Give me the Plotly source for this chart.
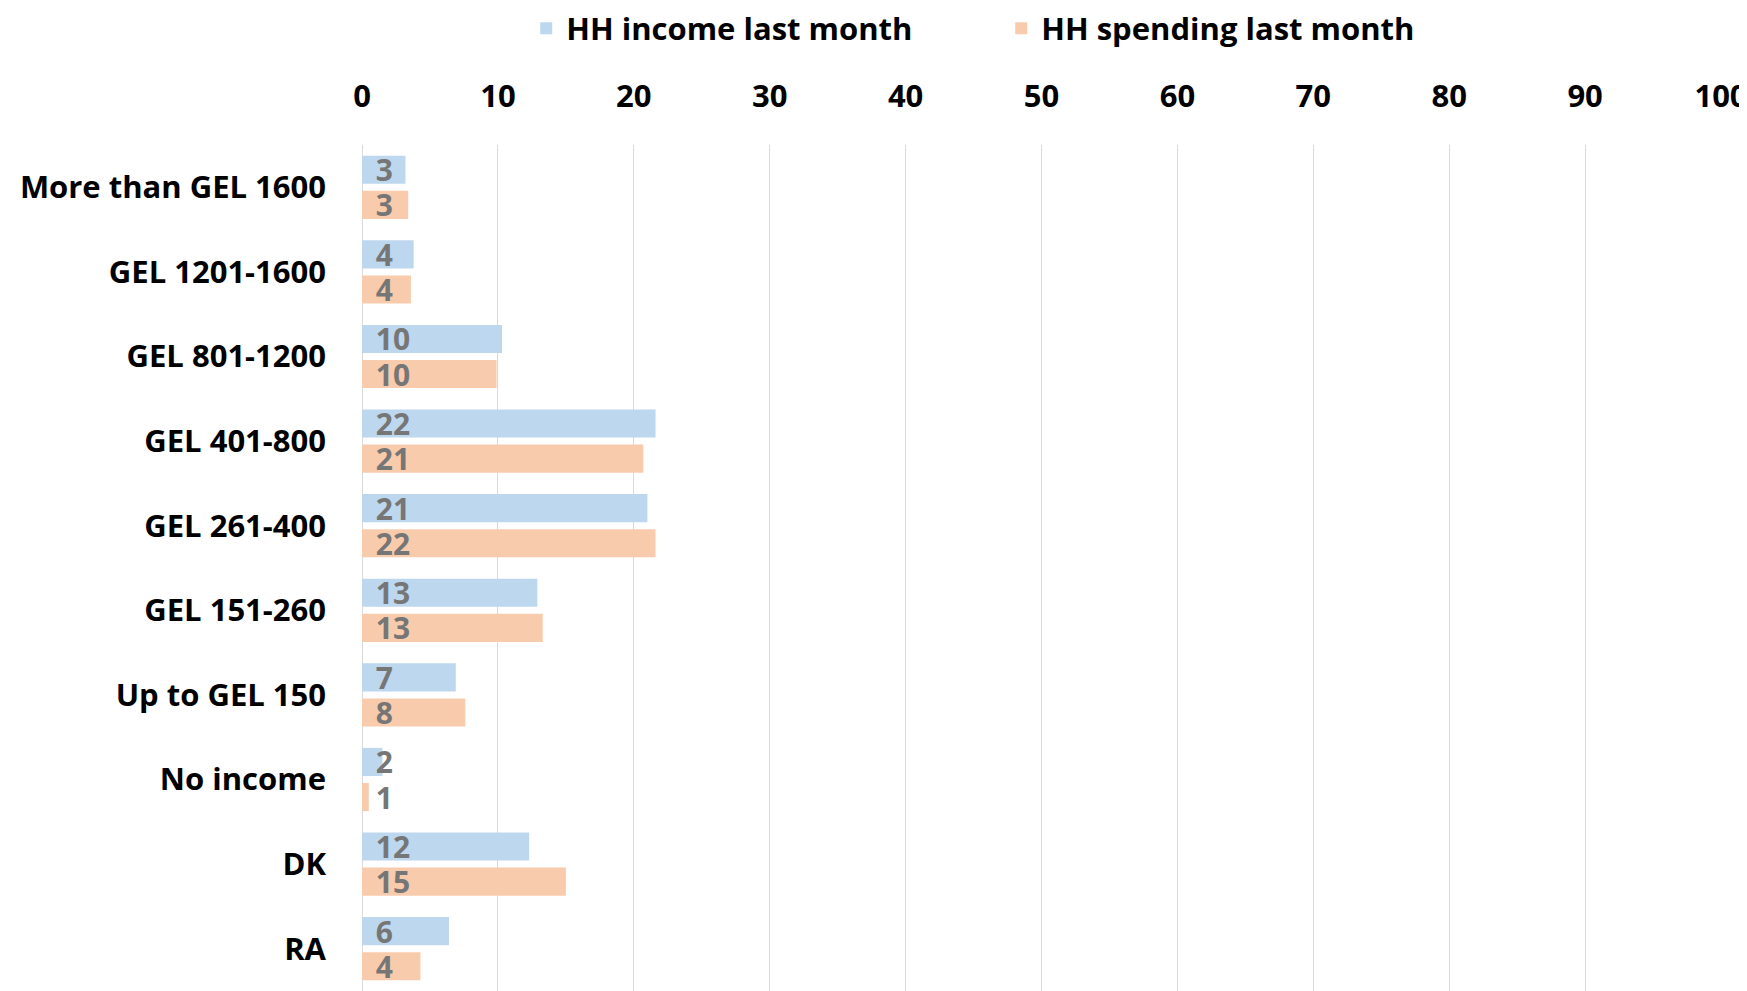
import plotly.graph_objects as go

categories = ["More than GEL 1600", "GEL 1201-1600", "GEL 801-1200", "GEL 401-800",
              "GEL 261-400", "GEL 151-260", "Up to GEL 150", "No income", "DK", "RA"]
income = [3.2, 3.8, 10.3, 21.6, 21.0, 12.9, 6.9, 1.5, 12.3, 6.4]
spending = [3.4, 3.6, 9.9, 20.7, 21.6, 13.3, 7.6, 0.5, 15.0, 4.3]
income_labels = [3, 4, 10, 22, 21, 13, 7, 2, 12, 6]
spending_labels = [3, 4, 10, 21, 22, 13, 8, 1, 15, 4]
x_ticks = [0, 10, 20, 30, 40, 50, 60, 70, 80, 90, 100]

FONT = "Open Sans, sans-serif"
NB = "\u00a0\u200a"

fig = go.Figure()
fig.add_trace(go.Bar(
    y=categories, x=income, orientation="h", name="HH income last month",
    marker=dict(color="#bdd7ee", line=dict(width=0)),
    text=[NB + str(v) for v in income_labels], textposition="inside",
    insidetextanchor="start", constraintext="none", textangle=0,
    textfont=dict(family=FONT, size=30, color="#767676", weight="bold"),
    hoverinfo="skip",
))
fig.add_trace(go.Bar(
    y=categories, x=spending, orientation="h", name="HH spending last month",
    marker=dict(color="#f8cbad", line=dict(width=0)),
    text=[NB + str(v) for v in spending_labels], textposition="inside",
    insidetextanchor="start", constraintext="none", textangle=0,
    textfont=dict(family=FONT, size=30, color="#767676", weight="bold"),
    hoverinfo="skip",
))

fig.update_layout(
    width=1739, height=983,
    margin=dict(l=354, r=26, t=137, b=0, autoexpand=False),
    paper_bgcolor="white", plot_bgcolor="white",
    barmode="group", bargap=0.17, bargroupgap=0.2,
    font=dict(family=FONT, color="black"),
    showlegend=True,
    legend=dict(orientation="h", xref="container", yref="container",
                x=0.298, y=0.979, xanchor="left", yanchor="middle",
                font=dict(family=FONT, size=31, color="black", weight="bold"),
                entrywidth=430, itemclick=False, traceorder="normal"),
    xaxis=dict(side="top", range=[0, 100], tickvals=x_ticks,
               ticktext=[str(t) for t in x_ticks],
               showgrid=True, gridcolor="#d9d9d9", gridwidth=1,
               zeroline=True, zerolinecolor="#d9d9d9", zerolinewidth=1,
               showline=False, ticks="", ticklabelstandoff=31,
               ticklabeloverflow="allow",
               tickfont=dict(family=FONT, size=31, color="black", weight="bold")),
    yaxis=dict(autorange="reversed", type="category", showgrid=False,
               showline=False, zeroline=False, ticks="", ticklabelstandoff=35,
               tickfont=dict(family=FONT, size=31, color="black", weight="bold")),
)

fig.write_html("out.html")
